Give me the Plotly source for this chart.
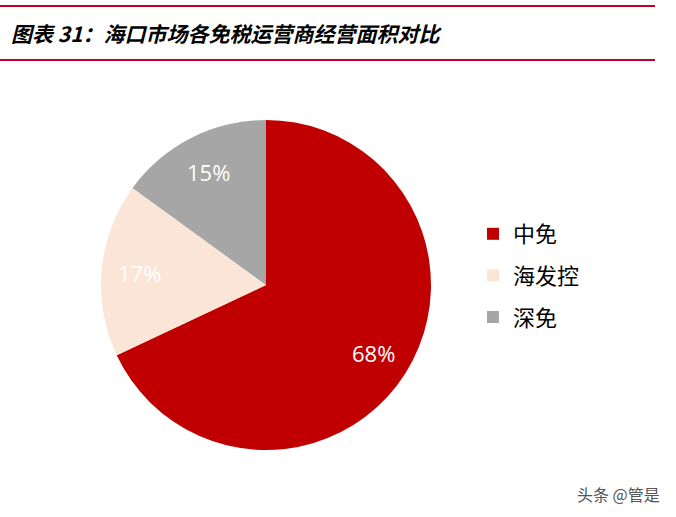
import math
import plotly.graph_objects as go

labels = ["中免", "海发控", "深免"]
values = [68, 17, 15]
colors = ["#C00000", "#FBE5D6", "#A6A6A6"]

W, H = 676, 517
# pie geometry in pixels (centre and radius)
CX, CY, R = 266, 285, 165
LABEL_R = 0.77

fig = go.Figure()
fig.add_trace(go.Pie(
    labels=labels, values=values, sort=False, direction="clockwise", rotation=0,
    marker=dict(colors=colors, line=dict(width=0)),
    textinfo="none", showlegend=False,
    domain=dict(x=[(CX - R) / W, (CX + R) / W], y=[(H - CY - R) / H, (H - CY + R) / H]),
    hoverinfo="label+percent",
))

# legend entries
for lab, col in zip(labels, colors):
    fig.add_trace(go.Scatter(
        x=[None], y=[None], mode="markers", name=lab, legendgroup=lab,
        marker=dict(symbol="square", size=12, color=col),
    ))

# percentage labels placed at a fraction of the radius, at each slice's mid-angle
total = sum(values)
annotations = []
cum = 0
for v in values:
    mid = (cum + v / 2) / total * 2 * math.pi
    cum += v
    px = CX + LABEL_R * R * math.sin(mid)
    py = CY - LABEL_R * R * math.cos(mid)
    annotations.append(dict(
        text=f"{round(v / total * 100)}%", xref="paper", yref="paper",
        x=px / W, y=(H - py) / H, xanchor="center", yanchor="middle", showarrow=False,
        font=dict(size=22, family="Open Sans, Noto Sans, sans-serif", color="white"),
    ))

annotations += [
    dict(text="<b><i>图表 31：海口市场各免税运营商经营面积对比</i></b>", xref="paper", yref="paper",
         x=9 / W, y=(H - 33) / H, xanchor="left", yanchor="middle", showarrow=False,
         font=dict(size=21, family="Noto Sans CJK SC", color="black")),
    dict(text="头条 @管是", xref="paper", yref="paper", x=662 / W, y=(H - 494) / H,
         xanchor="right", yanchor="middle", showarrow=False,
         font=dict(size=16, family="Noto Sans CJK SC", color="#555555")),
]

fig.update_layout(
    width=W, height=H, margin=dict(l=0, r=0, t=0, b=0),
    paper_bgcolor="white", plot_bgcolor="white",
    xaxis=dict(visible=False), yaxis=dict(visible=False),
    showlegend=True,
    legend=dict(x=473 / W, y=(H - 213) / H, xanchor="left", yanchor="top",
                font=dict(size=22, family="Noto Sans CJK SC", color="black"),
                traceorder="grouped", tracegroupgap=10, itemwidth=30,
                bgcolor="rgba(0,0,0,0)"),
    shapes=[
        dict(type="line", xref="paper", yref="paper", x0=0, x1=655 / W, y0=(H - 6) / H, y1=(H - 6) / H,
             line=dict(color="#C00028", width=2)),
        dict(type="line", xref="paper", yref="paper", x0=0, x1=655 / W, y0=(H - 60) / H, y1=(H - 60) / H,
             line=dict(color="#C00028", width=2)),
    ],
    annotations=annotations,
)

fig.write_html("out.html", config=dict(displayModeBar=False),
               post_script="document.body.style.margin='0';")
